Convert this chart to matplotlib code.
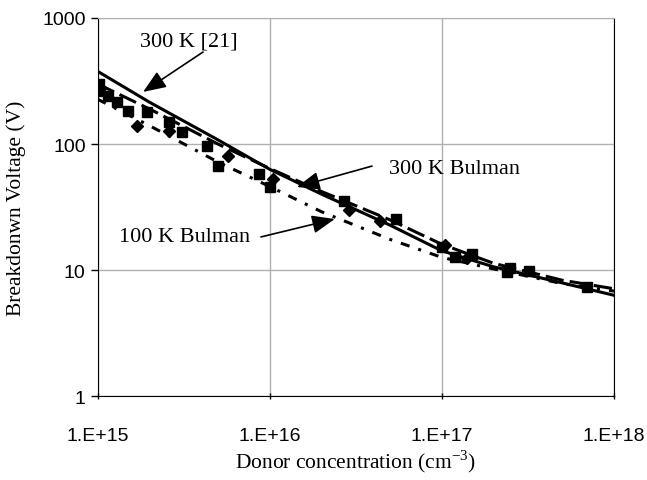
import numpy as np
import matplotlib.pyplot as plt

# model curves (donor concentration in cm^-3, breakdown voltage in V)
n_model = [1e15, 2e15, 5e15, 1e16, 2e16, 5e16, 1e17, 2e17, 5e17, 1e18]
v_300k_ref = [378, 215, 108, 63, 40, 22.7, 14.2, 10.6, 7.9, 6.3]
v_300k_bulman = [300, 190, 100, 64, 42, 25, 16, 11.3, 8.3, 7.1]
v_100k_bulman = [227, 140, 72, 46, 29, 17.5, 12.6, 10.2, 7.8, 6.8]

# measured points
n_sq = [1.02e15, 1.03e15, 1.15e15, 1.3e15, 1.5e15, 1.95e15, 2.6e15, 3.1e15,
        4.3e15, 5.0e15, 8.7e15, 1.0e16, 2.7e16, 5.4e16, 1.0e17, 1.2e17,
        1.5e17, 2.4e17, 2.5e17, 3.2e17, 7.0e17]
v_sq = [299, 263, 240, 215, 183, 180, 150, 124, 96, 67, 58, 45.6, 35.3,
        25.4, 15.2, 12.7, 13.4, 9.6, 10.4, 9.8, 7.3]
n_dia = [1.7e15, 2.6e15, 5.7e15, 1.05e16, 2.9e16, 4.4e16, 1.05e17, 1.4e17]
v_dia = [139, 127, 80, 53, 30, 24.5, 15.9, 12.5]

x_ticks = [1e15, 1e16, 1e17, 1e18]
x_labels = ['1.E+15', '1.E+16', '1.E+17', '1.E+18']
y_ticks = [1, 10, 100, 1000]
y_labels = ['1', '10', '100', '1000']

fig = plt.figure(figsize=(6.47, 4.81), dpi=100)
ax = fig.add_axes([0.1507, 0.1746, 0.7983, 0.7859])

ax.plot(n_model, v_300k_ref, color='black', lw=2.2, ls='-')
ax.plot(n_model, v_300k_bulman, color='black', lw=2.2, ls=(0, (6, 2)))
ax.plot(n_model, v_100k_bulman, color='black', lw=2.2, ls=(0, (3, 3, 1, 3)))
ax.plot(n_sq, v_sq, ls='none', marker='s', ms=7.5, color='black')
ax.plot(n_dia, v_dia, ls='none', marker='D', ms=6, color='black')

ax.set_xscale('log')
ax.set_yscale('log')
ax.set_xlim(1e15, 1e18)
ax.set_ylim(1, 1000)
ax.set_xticks(x_ticks)
ax.set_xticklabels(x_labels)
ax.set_yticks(y_ticks)
ax.set_yticklabels(y_labels)
ax.minorticks_off()
ax.grid(True, color='#b0b0b0', lw=1)
ax.tick_params(axis='both', labelsize=14, length=5, width=1, color='black')
ax.tick_params(axis='x', direction='inout', pad=20)
for lab in ax.get_xticklabels() + ax.get_yticklabels():
    lab.set_family('Liberation Sans')
for s in ['left', 'bottom', 'right']:
    ax.spines[s].set_color('black')
ax.spines['top'].set_color('#b0b0b0')

ax.set_xlabel('Donor concentration (cm$^{\\mathregular{-3}}$)',
              family='Liberation Serif', fontsize=15.5, labelpad=2)
ax.set_ylabel('Breakdonwn Voltage (V)', family='Liberation Serif',
              fontsize=15.5, labelpad=12)

arrow = dict(arrowstyle='-|>,head_length=1.0,head_width=0.4',
             color='black', lw=1.2, mutation_scale=14, shrinkA=0, shrinkB=0)
txt = dict(ha='center', va='center', family='Liberation Serif', fontsize=16)

ax.text(3.4e15, 657, '300 K [21]', **txt)
ax.annotate('', xy=(1.84e15, 259), xytext=(4.1e15, 537), arrowprops=arrow)
ax.text(1.19e17, 63.4, '300 K Bulman', **txt)
ax.annotate('', xy=(1.44e16, 45.6), xytext=(3.93e16, 66.8), arrowprops=arrow)
ax.text(3.2e15, 18.3, '100 K Bulman', **txt)
ax.annotate('', xy=(2.39e16, 25.4), xytext=(8.9e15, 18.3), arrowprops=arrow)

fig.savefig('out.png', dpi=100)
